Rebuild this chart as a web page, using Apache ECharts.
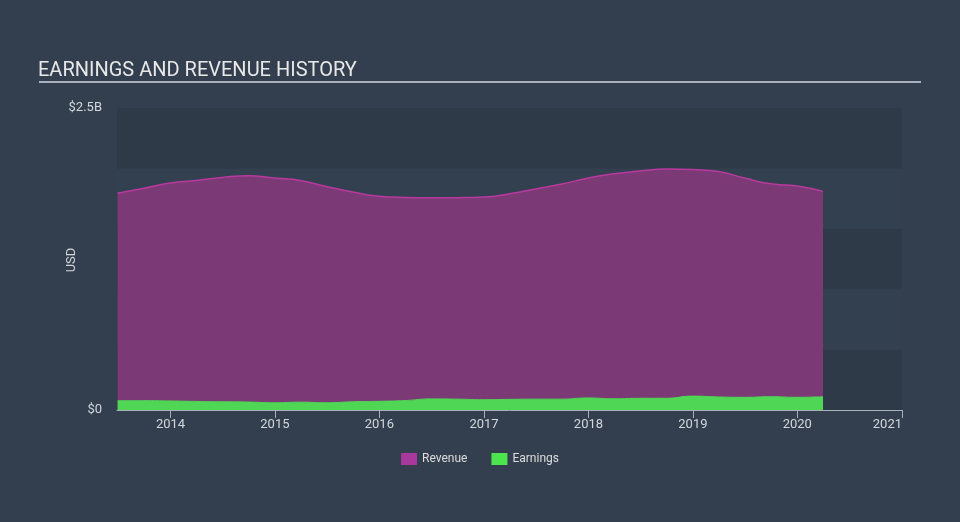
<!DOCTYPE html>
<html>
<head>
<meta charset="utf-8">
<script src="https://cdn.jsdelivr.net/npm/echarts@6/dist/echarts.min.js"></script>
<style>
html,body{margin:0;padding:0;background:#333f4e;}
#chart{width:960px;height:522px;}
</style>
</head>
<body>
<div id="chart"></div>
<script>
// Quarter-end dates (UTC)
const dates = [
  '2013-06-30','2013-09-30','2013-12-31','2014-03-31','2014-06-30','2014-09-30','2014-12-31',
  '2015-03-31','2015-06-30','2015-09-30','2015-12-31','2016-03-31','2016-06-30','2016-09-30',
  '2016-12-31','2017-03-31','2017-06-30','2017-09-30','2017-12-31','2018-03-31','2018-06-30',
  '2018-09-30','2018-12-31','2019-03-31','2019-06-30','2019-09-30','2019-12-31','2020-03-31'
];
// Values in billions USD
const revenue = [
  1.795,1.835,1.880,1.900,1.925,1.940,1.920,
  1.900,1.850,1.805,1.770,1.760,1.757,1.758,
  1.763,1.790,1.830,1.870,1.920,1.955,1.978,
  1.995,1.990,1.975,1.920,1.872,1.855,1.810
];
const earnings = [
  0.077,0.077,0.075,0.071,0.068,0.066,0.060,
  0.065,0.060,0.068,0.072,0.078,0.092,0.090,
  0.085,0.088,0.090,0.090,0.100,0.093,0.097,
  0.097,0.115,0.108,0.105,0.110,0.105,0.110
];
const yearTicks = [2014,2015,2016,2017,2018,2019,2020,2021];
const yAxisName = 'USD';

const ts = d => Date.parse(d + 'T00:00:00Z');
const revData = dates.map((d,i)=>[ts(d), revenue[i]*1e9]);
const earnData = dates.map((d,i)=>[ts(d), earnings[i]*1e9]);
const tickVals = yearTicks.map(y=>Date.UTC(y,0,1));

const chart = echarts.init(document.getElementById('chart'));
chart.setOption({
  backgroundColor: '#333f4e',
  animation: false,
  textStyle: {fontFamily: 'Roboto'},
  title: {
    text: 'EARNINGS AND REVENUE HISTORY',
    left: 33, top: 56,
    textStyle: {color: '#e8e8e8', fontSize: 20, fontWeight: 'normal', fontFamily: 'Roboto'}
  },
  graphic: [
    {
      type: 'line', shape: {x1: 39, y1: 82, x2: 921, y2: 82},
      style: {stroke: '#aab1ba', lineWidth: 2}
    },
    {
      type: 'text', x: 72, y: 260, rotation: Math.PI / 2,
      style: {text: yAxisName, fill: '#d4d8dc', font: '13px Roboto', align: 'center', verticalAlign: 'middle'}
    }
  ],
  legend: {
    bottom: 52, left: 'center',
    itemWidth: 16, itemHeight: 12, itemGap: 24,
    icon: 'rect',
    textStyle: {color: '#dddddd', fontSize: 12, fontFamily: 'Roboto'},
    data: ['Revenue','Earnings']
  },
  grid: {left: 117, right: 58, top: 108, bottom: 112},
  xAxis: {
    type: 'value',
    min: ts('2013-06-28'),
    max: Date.UTC(2021,0,1),
    axisLine: {show: true, lineStyle: {color: '#a9b0b9', width: 1}},
    axisTick: {show: true, length: 8, customValues: tickVals, lineStyle: {color: '#a9b0b9'}},
    axisLabel: {
      customValues: tickVals,
      color: '#d4d8dc', fontSize: 13, margin: 8,
      alignMaxLabel: 'right',
      formatter: v => String(new Date(v).getUTCFullYear())
    },
    splitLine: {show: false}
  },
  yAxis: {
    type: 'value',
    min: 0, max: 2.5e9, interval: 0.5e9,
    axisLine: {show: false},
    axisTick: {show: false},
    axisLabel: {
      color: '#d4d8dc', fontSize: 13, margin: 15,
      formatter: v => v === 0 ? '$0' : (v === 2.5e9 ? '$2.5B' : '')
    },
    splitLine: {show: false},
    splitArea: {show: true, areaStyle: {color: ['#2e3a48', '#334050']}}
  },
  series: [
    {
      name: 'Revenue', type: 'line', data: revData, smooth: true, symbol: 'none',
      itemStyle: {color: '#a8389b'},
      lineStyle: {color: '#b8399f', width: 1.5},
      areaStyle: {color: '#7b3a75', opacity: 1}
    },
    {
      name: 'Earnings', type: 'line', data: earnData, smooth: true, symbol: 'none',
      itemStyle: {color: '#4de54e'},
      lineStyle: {color: '#4fd655', width: 1},
      areaStyle: {color: '#4fd655', opacity: 1}
    }
  ]
});
</script>
</body>
</html>
